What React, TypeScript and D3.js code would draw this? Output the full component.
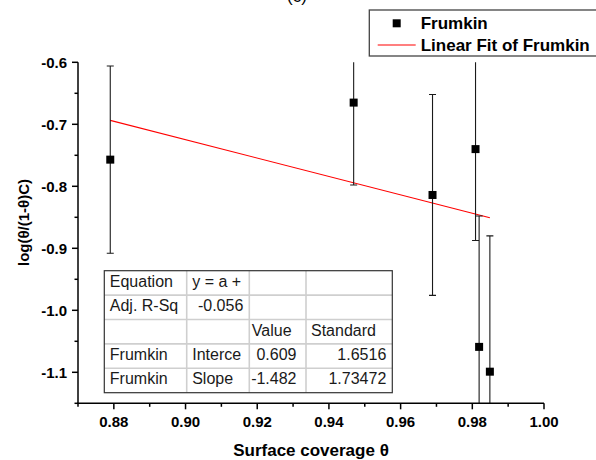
import React from "react";
import * as d3 from "d3";

// Surface coverage θ and log(θ/(1-θ)C) with standard deviations
const theta = [0.879, 0.9469, 0.9689, 0.9809, 0.9819, 0.9849];
const logValue = [-0.757, -0.665, -0.814, -0.74, -1.059, -1.099];
const errorValue = [0.151, 0.133, 0.162, 0.1475, 0.211, 0.219];

// Linear fit parameters (y = a + b·x)
const fitIntercept = 0.609;
const fitSlope = -1.482;

const xMajorTicks = [0.88, 0.9, 0.92, 0.94, 0.96, 0.98, 1.0];
const xMinorTicks = [0.87, 0.89, 0.91, 0.93, 0.95, 0.97, 0.99];
const yMajorTicks = [-0.6, -0.7, -0.8, -0.9, -1.0, -1.1];
const yMinorTicks = [-0.65, -0.75, -0.85, -0.95, -1.05, -1.15];

const tableRows = [
  ["Equation", "y = a +", "", ""],
  ["Adj. R-Sq", "-0.056", "", ""],
  ["", "", "Value", "Standard"],
  ["Frumkin", "Interce", "0.609", "1.6516"],
  ["Frumkin", "Slope", "-1.482", "1.73472"],
];

const W = 596;
const H = 460;
const left = 78;
const right = 544;
const top = 62.3;
const bottom = 403.3;

const FONT = "'Liberation Sans', Arial, Helvetica, sans-serif";

export default function App() {
  const x = d3.scaleLinear().domain([0.87, 1.0]).range([left, right]);
  const y = d3.scaleLinear().domain([-1.15, -0.6]).range([bottom, top]);

  const fitX = d3.extent(theta) as [number, number];
  const fitLine = d3
    .line<number>()
    .x((d) => x(d))
    .y((d) => y(fitIntercept + fitSlope * d));

  // Inset table geometry
  const tLeft = 104.3;
  const tTop = 270.7;
  const colW = [82.4, 62.6, 56.7, 86.3];
  const rowH = 24.4;
  const colX = colW.reduce<number[]>((acc, w, i) => {
    acc.push(i === 0 ? tLeft : acc[i - 1] + colW[i - 1]);
    return acc;
  }, []);
  const tWidth = d3.sum(colW);
  const tHeight = rowH * tableRows.length;
  const padLeft = [5.5, 5.5, 2.5, 5];
  const padRight = [6, 6, 9.5, 6];
  const isNumber = (s: string) => /^-?\d/.test(s);

  const fmt = d3.format(".2f");
  const fmtY = (v: number) => (v < 0 ? "-" : "") + d3.format(".1f")(Math.abs(v));

  return (
    <svg
      width={W}
      height={H}
      style={{ position: "absolute", left: 0, top: 0, background: "#fff" }}
      fontFamily={FONT}
    >
      <defs>
        <clipPath id="plot-area">
          <rect x={left} y={top} width={right - left} height={bottom - top} />
        </clipPath>
      </defs>

      {/* panel label */}
      <text x={297} y={2} textAnchor="middle" fontSize={17}>
        (c)
      </text>

      {/* fit line */}
      <path
        d={fitLine(fitX) || ""}
        stroke="#ff0000"
        strokeWidth={1.1}
        fill="none"
        clipPath="url(#plot-area)"
      />

      {/* error bars */}
      <g clipPath="url(#plot-area)" stroke="#1a1a1a" strokeWidth={1.1}>
        {theta.map((t, i) => {
          const cx = x(t);
          const y1 = y(logValue[i] + errorValue[i]);
          const y2 = y(logValue[i] - errorValue[i]);
          return (
            <g key={i}>
              <line x1={cx} x2={cx} y1={y1} y2={y2} />
              <line x1={cx - 3.5} x2={cx + 3.5} y1={y1} y2={y1} />
              <line x1={cx - 3.5} x2={cx + 3.5} y1={y2} y2={y2} />
            </g>
          );
        })}
      </g>

      {/* markers */}
      {theta.map((t, i) => (
        <rect
          key={i}
          x={x(t) - 4}
          y={y(logValue[i]) - 4}
          width={8}
          height={8}
          fill="#000"
        />
      ))}

      {/* axes */}
      <g stroke="#000" strokeWidth={1.5}>
        <line x1={left} x2={left} y1={top} y2={bottom + 0.75} />
        <line x1={left - 0.75} x2={right} y1={bottom} y2={bottom} />
        {xMajorTicks.map((v) => (
          <line key={v} x1={x(v)} x2={x(v)} y1={bottom} y2={bottom + 6} />
        ))}
        {xMinorTicks.map((v) => (
          <line key={v} x1={x(v)} x2={x(v)} y1={bottom} y2={bottom + 3.5} />
        ))}
        {yMajorTicks.map((v) => (
          <line key={v} x1={left - 6} x2={left} y1={y(v)} y2={y(v)} />
        ))}
        {yMinorTicks.map((v) => (
          <line key={v} x1={left - 3.5} x2={left} y1={y(v)} y2={y(v)} />
        ))}
      </g>

      {/* tick labels */}
      <g fontSize={15} fontWeight="bold" fill="#000">
        {xMajorTicks.map((v) => (
          <text key={v} x={x(v)} y={426.5} textAnchor="middle">
            {fmt(v)}
          </text>
        ))}
        {yMajorTicks.map((v) => (
          <text key={v} x={67} y={y(v) + 5.3} textAnchor="end">
            {fmtY(v)}
          </text>
        ))}
      </g>

      {/* axis titles */}
      <text
        x={(left + right) / 2}
        y={456}
        textAnchor="middle"
        fontSize={17}
        fontWeight="bold"
      >
        Surface coverage θ
      </text>
      <text
        transform={`translate(28.5, 222.5) rotate(-90)`}
        textAnchor="middle"
        fontSize={15}
        fontWeight="bold"
      >
        log(θ/(1-θ)C)
      </text>

      {/* fit parameter table */}
      <g>
        <rect x={tLeft} y={tTop} width={tWidth} height={tHeight} fill="#fff" />
        {tableRows.slice(1).map((_, r) => (
          <line
            key={"h" + r}
            x1={tLeft}
            x2={tLeft + tWidth}
            y1={tTop + rowH * (r + 1)}
            y2={tTop + rowH * (r + 1)}
            stroke="#cfcfcf"
            strokeWidth={1.6}
          />
        ))}
        {colX.slice(1).map((cx, c) => (
          <line
            key={"v" + c}
            x1={cx}
            x2={cx}
            y1={tTop}
            y2={tTop + tHeight}
            stroke="#cfcfcf"
            strokeWidth={1.6}
          />
        ))}
        <rect
          x={tLeft}
          y={tTop}
          width={tWidth}
          height={tHeight}
          fill="none"
          stroke="#333"
          strokeWidth={1.2}
        />
        <g fontSize={16} fill="#1a1a1a">
          {tableRows.map((row, r) =>
            row.map((cell, c) => {
              if (!cell) return null;
              const num = isNumber(cell);
              const tx = num
                ? colX[c] + colW[c] - padRight[c]
                : colX[c] + padLeft[c];
              return (
                <text
                  key={r + "-" + c}
                  x={tx}
                  y={tTop + rowH * r + 16}
                  textAnchor={num ? "end" : "start"}
                >
                  {cell}
                </text>
              );
            })
          )}
        </g>
      </g>

      {/* legend */}
      <g>
        <rect
          x={369.3}
          y={10}
          width={260}
          height={46}
          fill="#fff"
          stroke="#444"
          strokeWidth={1.3}
        />
        <rect x={392.7} y={19.3} width={8} height={8} fill="#000" />
        <line x1={377.7} x2={415.7} y1={45} y2={45} stroke="#ff0000" strokeWidth={1.1} />
        <g fontSize={17} fontWeight="bold" fill="#000">
          <text x={420.7} y={28.6}>
            Frumkin
          </text>
          <text x={420.7} y={50.8}>
            Linear Fit of Frumkin
          </text>
        </g>
      </g>
    </svg>
  );
}
